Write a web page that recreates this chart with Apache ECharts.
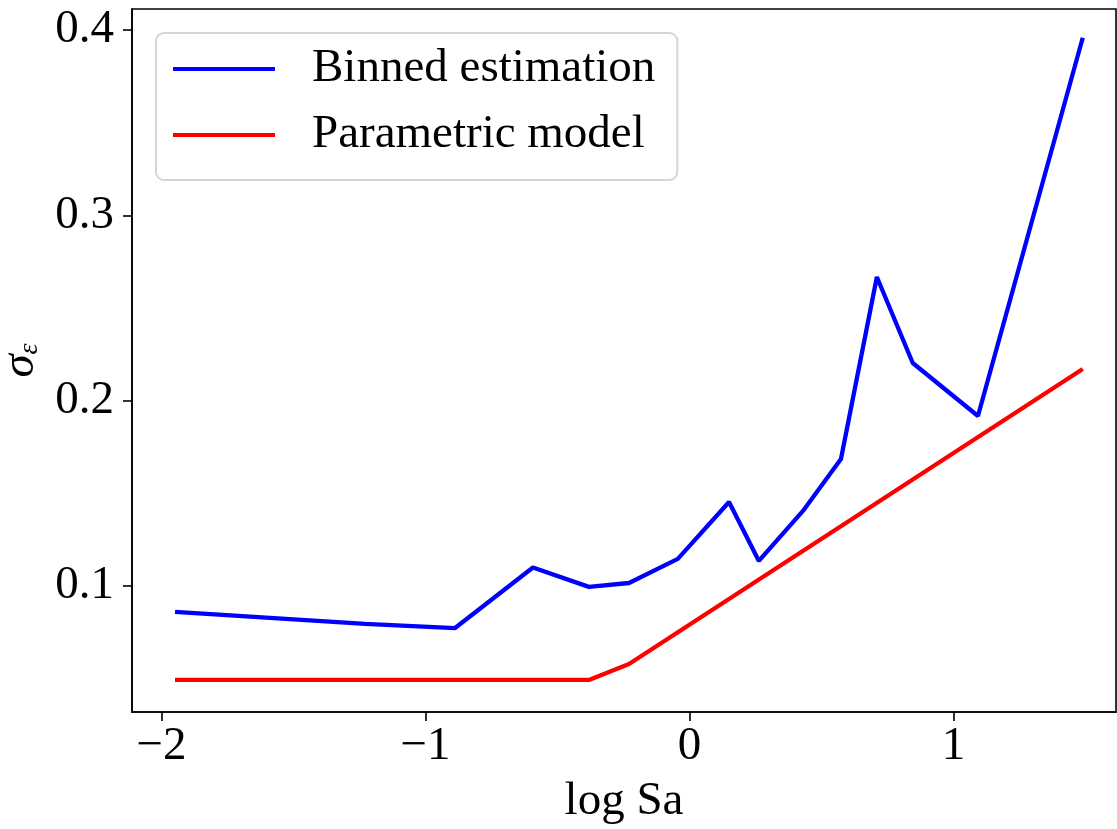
<!DOCTYPE html>
<html>
<head>
<meta charset="utf-8">
<script src="https://cdn.jsdelivr.net/npm/echarts@6/dist/echarts.min.js"></script>
<style>
html,body{margin:0;padding:0;background:#fff;}
#chart{width:1117px;height:829px;}
</style>
</head>
<body>
<div id="chart"></div>
<script>
const seriesNames = ['Binned estimation', 'Parametric model'];
const binnedX = [-1.949, -1.229, -0.888, -0.593, -0.381, -0.229, -0.044, 0.150, 0.263, 0.430, 0.574, 0.710, 0.846, 1.093, 1.490];
const binnedY = [0.0860, 0.0795, 0.0773, 0.1100, 0.0995, 0.1016, 0.1146, 0.1453, 0.1135, 0.1405, 0.1685, 0.2667, 0.2203, 0.1917, 0.3958];
const paramX = [-1.949, -0.381, -0.229, 1.490];
const paramY = [0.0493, 0.0493, 0.0579, 0.2171];
const xTicks = [-2, -1, 0, 1];
const yTicks = [0.1, 0.2, 0.3, 0.4];
const xName = 'log Sa';

const FONT = '"Liberation Serif", "DejaVu Serif", serif';
const FS = 47;

const chart = echarts.init(document.getElementById('chart'), null, {renderer: 'canvas'});
const option = {
  animation: false,
  backgroundColor: '#fff',
  grid: {
    left: 132, right: 1, top: 9, bottom: 117,
    show: true, borderColor: '#000', borderWidth: 1.6,
    outerBoundsMode: 'none'
  },
  legend: {
    orient: 'vertical',
    left: 156, top: 33,
    padding: [11, 22, 20, 17],
    itemWidth: 102, itemHeight: 4,
    itemGap: 16,
    icon: 'rect',
    borderColor: '#d6d6d6', borderWidth: 2, borderRadius: 8,
    backgroundColor: 'rgba(255,255,255,0.8)',
    textStyle: {fontFamily: FONT, fontSize: FS, color: '#000', lineHeight: 50, padding: [0, 0, 0, 32]},
    data: seriesNames
  },
  xAxis: {
    type: 'value',
    min: -2.112, max: 1.616,
    name: xName,
    nameLocation: 'middle',
    nameGap: 66,
    nameTextStyle: {fontFamily: FONT, fontSize: FS, color: '#000'},
    axisLine: {show: true, onZero: false, lineStyle: {color: '#000', width: 1.6}},
    axisTick: {show: true, length: 9, lineStyle: {color: '#000', width: 1.6}, customValues: xTicks},
    axisLabel: {
      customValues: xTicks,
      fontFamily: FONT, fontSize: FS, color: '#000', margin: 11,
      formatter: v => (v < 0 ? '\u2212' + Math.abs(v) : String(v))
    },
    splitLine: {show: false}
  },
  yAxis: {
    type: 'value',
    min: 0.032, max: 0.4113,
    name: '{s|σ}{e|ε}',
    nameLocation: 'middle',
    nameGap: 88,
    nameRotate: 90,
    nameTextStyle: {
      rich: {
        s: {fontFamily: FONT, fontSize: FS, fontStyle: 'italic', color: '#000'},
        e: {fontFamily: FONT, fontSize: 28, fontStyle: 'italic', color: '#000', verticalAlign: 'bottom'}
      }
    },
    axisLine: {show: true, onZero: false, lineStyle: {color: '#000', width: 1.6}},
    axisTick: {show: true, length: 9, lineStyle: {color: '#000', width: 1.6}, customValues: yTicks},
    axisLabel: {
      customValues: yTicks,
      fontFamily: FONT, fontSize: FS, color: '#000', margin: 18,
      formatter: v => v.toFixed(1)
    },
    splitLine: {show: false}
  },
  series: [
    {
      name: seriesNames[0], type: 'line',
      data: binnedX.map((x, i) => [x, binnedY[i]]),
      showSymbol: false, symbol: 'none',
      lineStyle: {color: '#0000ff', width: 4.3},
      itemStyle: {color: '#0000ff'}
    },
    {
      name: seriesNames[1], type: 'line',
      data: paramX.map((x, i) => [x, paramY[i]]),
      showSymbol: false, symbol: 'none',
      lineStyle: {color: '#ff0000', width: 4.3},
      itemStyle: {color: '#ff0000'}
    }
  ]
};
chart.setOption(option);
</script>
</body>
</html>
